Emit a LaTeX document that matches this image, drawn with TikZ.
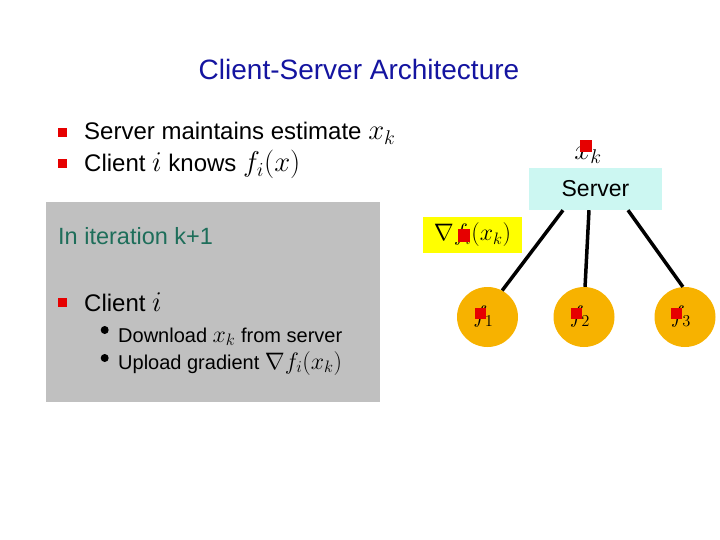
\documentclass[tikz,border=0pt]{standalone}
\usepackage{fontspec}
\usepackage{graphicx}
\setmainfont{Liberation Sans}
\usetikzlibrary{shapes.geometric}
\definecolor{titleblue}{RGB}{20,20,160}
\definecolor{boxgray}{RGB}{192,192,192}
\definecolor{iterteal}{RGB}{30,110,90}
\definecolor{servcyan}{RGB}{204,247,242}
\definecolor{clientorange}{RGB}{247,178,0}
\definecolor{bulletred}{RGB}{230,0,0}
\definecolor{hlyellow}{RGB}{255,255,0}
\newcommand\mth[1]{\scalebox{1.15}{$#1$}}
\newcommand\cf[1]{\kern-4pt\mth{f_{#1}}\kern4pt}
\tikzset{
  txt/.style={inner sep=0pt, anchor=base west},
  redsq/.style={fill=bulletred, minimum size=9pt, inner sep=0pt},
  dotb/.style={circle, fill=black, minimum size=8pt, inner sep=0pt},
  client/.style={ellipse, fill=clientorange, minimum width=61pt, minimum height=60pt, inner sep=0pt, font=\fontsize{22}{26}\selectfont},
  link/.style={line width=3.5pt}
}
\begin{document}
\begin{tikzpicture}[x=1pt,y=-1pt]
\useasboundingbox (0,0) rectangle (720,540);
% title
\node[font=\fontsize{28}{32}\selectfont, text=titleblue, inner sep=0pt] (title) at (359,69) {Client-Server Architecture};
% top bullets
\node[redsq] (s1) at (62,133) {};
\node[txt, font=\fontsize{24}{28}\selectfont] (b1) at (84,140) {Server maintains estimate \mth{x_k}};
\node[redsq] (s2) at (62,164) {};
\node[txt, font=\fontsize{24}{28}\selectfont] (b2) at (84,172) {Client \mth{i} knows \mth{f_i(x)}};
% gray box
\fill[boxgray] (46,202) rectangle (380,402);
\node[txt, font=\fontsize{23.5}{28}\selectfont, text=iterteal] (iter) at (58,244) {In iteration k+1};
\node[redsq] (s3) at (62,302) {};
\node[txt, font=\fontsize{24}{28}\selectfont] (cl) at (84,311) {Client \mth{i}};
\node[dotb] (d1) at (104.7,330) {};
\node[txt, font=\fontsize{20}{24}\selectfont] (dl) at (118,342) {Download \mth{x_k} from server};
\node[dotb] (d2) at (104.7,358) {};
\node[txt, font=\fontsize{20}{24}\selectfont] (ul) at (118,369) {Upload gradient \mth{\nabla f_i(x_k)}};
% server
\node[fill=servcyan, minimum width=133pt, minimum height=42pt, inner sep=0pt, font=\fontsize{23}{27}\selectfont] (server) at (595.5,189) {Server};
\node[inner sep=0pt, font=\fontsize{23}{27}\selectfont] (xk) at (588,155) {\mth{x_k}};
\node[redsq, minimum size=12pt] (sxk) at (586,146) {};
% yellow box
\node[fill=hlyellow, minimum width=99pt, minimum height=36pt, inner sep=0pt, font=\fontsize{20}{24}\selectfont] (grad) at (472.5,235) {\mth{\nabla f_i(x_k)}};
\node[redsq, minimum size=12pt] (sg) at (463.5,235.5) {};
% clients
\node[client] (c1) at (487.5,317) {\cf{1}};
\node[client] (c2) at (584,317) {\cf{2}};
\node[client] (c3) at (685,317) {\cf{3}};
\node[redsq, minimum size=11pt] (q1) at (480,313.5) {};
\node[redsq, minimum size=11pt] (q2) at (576.5,313.5) {};
\node[redsq, minimum size=11pt] (q3) at (676.5,313.5) {};
% links
\draw[link] ([xshift=-32.5pt]server.south) -- (c1.61);
\draw[link] ([xshift=-6.5pt]server.south) -- (c2.88);
\draw[link] ([xshift=32.5pt]server.south) -- (c3.94);
\end{tikzpicture}
\end{document}
